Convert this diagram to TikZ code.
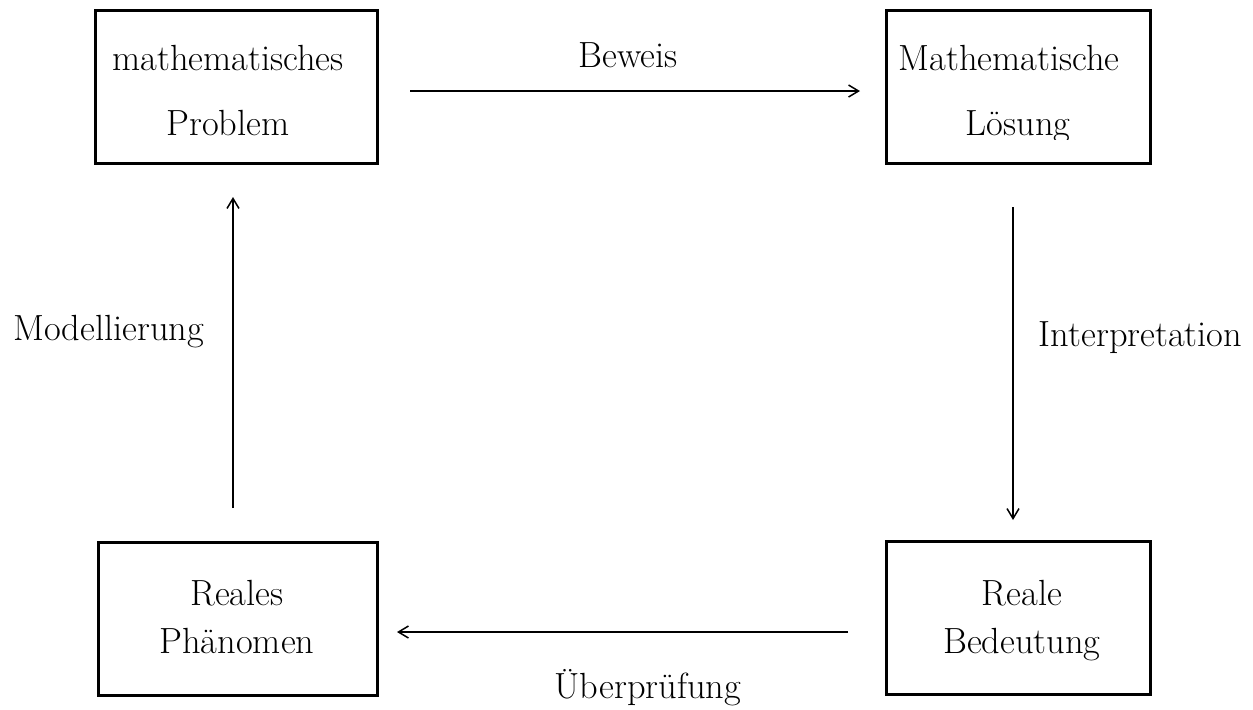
\documentclass[tikz,border=0pt]{standalone}
\usepackage{fontspec}
\usetikzlibrary{arrows.meta}
\begin{document}
\begin{tikzpicture}[x=0.5pt,y=-0.5pt,
  box/.style={draw, line width=1.5pt, inner sep=0pt, outer sep=0pt},
  txt/.style={anchor=base, inner sep=0pt, font=\fontsize{18.2}{21}\selectfont},
  arr/.style={-{Straight Barb[length=5pt,width=6pt]}, line width=0.75pt}]
\useasboundingbox (0,0) rectangle (1253,709);
% boxes
\node[box, minimum width=141pt, minimum height=76.5pt] (mp) at (236,86.5) {};
\node[box, minimum width=132pt, minimum height=76.5pt] (ml) at (1018,86.5) {};
\node[box, minimum width=139.5pt, minimum height=76.5pt] (rp) at (237.5,618.5) {};
\node[box, minimum width=132pt, minimum height=76.5pt] (rb) at (1018,617.5) {};
% box texts
\node[txt] (t1) at (228,70) {mathematisches};
\node[txt] (t2) at (228,135) {Problem};
\node[txt] (t3) at (1009,70) {Mathematische};
\begin{scope}
\clip (886,0) rectangle (1150,139);
\node[txt] (t4) at (1018,135) {Lösung};
\end{scope}
\node[txt] (t5) at (237,605) {Reales};
\node[txt] (t6) at (237,653) {Phänomen};
\node[txt] (t7) at (1022,605) {Reale};
\node[txt] (t8) at (1022,653) {Bedeutung};
% arrows
\draw[arr] ([xshift=16.5pt,yshift=-2.25pt]mp.east) -- ([xshift=-13pt,yshift=-2.25pt]ml.west);
\draw[arr] ([xshift=-2.5pt,yshift=-22pt]ml.south) -- ([xshift=-2.5pt,yshift=10.5pt]rb.north);
\draw[arr] ([xshift=-19pt,yshift=-7.25pt]rb.west) -- ([xshift=10pt,yshift=-6.75pt]rp.east);
\draw[arr] ([xshift=-2.25pt,yshift=17pt]rp.north) -- ([xshift=-1.5pt,yshift=-17pt]mp.south);
% labels
\node[txt] (lb) at (628,67) {Beweis};
\node[txt] (li) at (1140.5,346) {Interpretation};
\node[txt] (lu) at (648,698) {Überprüfung};
\node[txt] (lm) at (108.5,340) {Modellierung};
\end{tikzpicture}
\end{document}
